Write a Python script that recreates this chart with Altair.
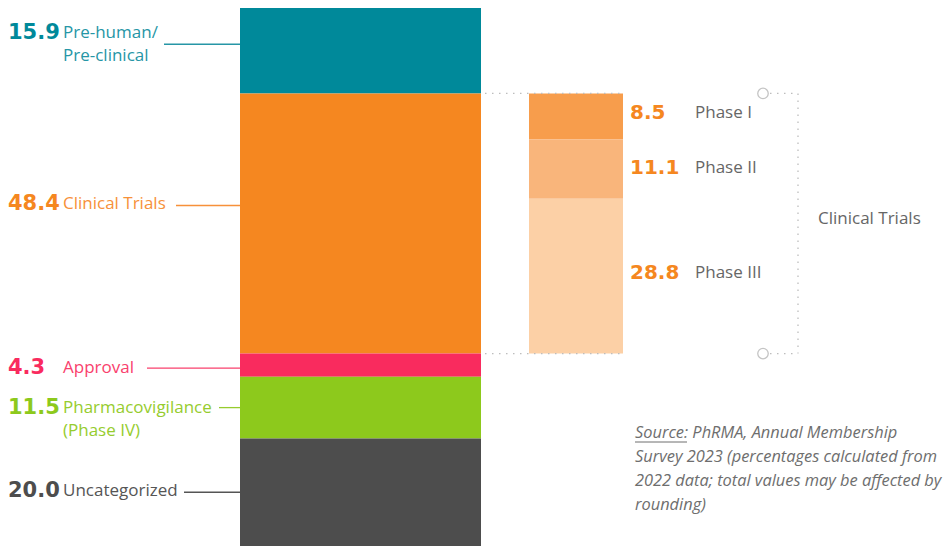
import altair as alt
import pandas as pd

# ---------------- data ----------------
stage_labels = ["Pre-human/\nPre-clinical", "Clinical Trials", "Approval",
                "Pharmacovigilance\n(Phase IV)", "Uncategorized"]
stage_values = [15.9, 48.4, 4.3, 11.5, 20.0]
stage_colors = ["#00899A", "#F58720", "#F92B5E", "#8DC91C", "#4D4D4D"]
stage_label_colors = ["#2696A6", "#F7913A", "#F9416D", "#96CC2E", "#555555"]

phase_labels = ["Phase I", "Phase II", "Phase III"]
phase_values = [8.5, 11.1, 28.8]
phase_colors = ["#F79D4C", "#F9B57B", "#FCD0A6"]
phase_value_color = "#F58720"

bracket_label = "Clinical Trials"
source_lines = ["Source: PhRMA, Annual Membership",
                "Survey 2023 (percentages calculated from",
                "2022 data; total values may be affected by",
                "rounding)"]

# ---------------- layout ----------------
W, H = 935, 538
TOTAL = sum(stage_values)
PX = H / TOTAL
BAR_X0, BAR_X1 = 232, 473
PH_X0, PH_X1 = 521, 615
VAL_X, LAB_X = 0, 55
text_off = [-17.5, -20, 3, 0, -1]
value_off = [-17.5, -20, 3, 0, -1]
leader_off = [-6.5, -18, 3, 0, 0]
leader_x0 = [156, 168, 139, 211, 176]
phase_off = [-3, -1, -3]

xs = alt.Scale(domain=[0, W], nice=False, zero=False)
ys = alt.Scale(domain=[0, TOTAL], nice=False, zero=False, reverse=True)

# main stacked bar
rows = []
acc = 0.0
for i, (lab, v) in enumerate(zip(stage_labels, stage_values)):
    mid = acc + v / 2
    rows.append(dict(label=lab, val=f"{v:.1f}", y0=acc, y1=acc + v,
                     color=stage_colors[i], lcolor=stage_label_colors[i],
                     ty=mid + text_off[i] / PX, vy=mid + value_off[i] / PX,
                     ly=mid + leader_off[i] / PX,
                     lx0=leader_x0[i], lx1=BAR_X0, vx=VAL_X, tx=LAB_X,
                     bx0=BAR_X0, bx1=BAR_X1))
    acc += v
main = pd.DataFrame(rows)

clin_start = stage_values[0]
clin_end = stage_values[0] + stage_values[1]

prow = []
acc = clin_start
for i, (lab, v) in enumerate(zip(phase_labels, phase_values)):
    prow.append(dict(label=lab, val=f"{v:.1f}", y0=acc, y1=acc + v,
                     mid=acc + v / 2 + phase_off[i] / PX, color=phase_colors[i],
                     x0=PH_X0, x1=PH_X1, vx=622, tx=687))
    acc += v
phase = pd.DataFrame(prow)

X = lambda f: alt.X(f, type="quantitative", scale=xs, axis=None)
Y = lambda f: alt.Y(f, type="quantitative", scale=ys, axis=None)

bars = alt.Chart(main).mark_rect().encode(
    x=X("bx0"), x2="bx1", y=Y("y0"), y2="y1",
    color=alt.Color("color:N", scale=None))

leaders = alt.Chart(main).mark_rule(strokeWidth=1.3).encode(
    x=X("lx0"), x2="lx1", y=Y("ly"), color=alt.Color("lcolor:N", scale=None))

vals = alt.Chart(main).mark_text(align="left", baseline="middle", font="DejaVu Sans",
                                 fontSize=21, fontWeight="bold").encode(
    x=X("vx"), y=Y("vy"), text="val:N", color=alt.Color("color:N", scale=None))

labs = alt.Chart(main).mark_text(align="left", baseline="middle", font="Open Sans",
                                 fontSize=17, lineBreak="\n", lineHeight=23).encode(
    x=X("tx"), y=Y("ty"), text="label:N", color=alt.Color("lcolor:N", scale=None))

pbars = alt.Chart(phase).mark_rect().encode(
    x=X("x0"), x2="x1", y=Y("y0"), y2="y1", color=alt.Color("color:N", scale=None))

pvals = alt.Chart(phase).mark_text(align="left", baseline="middle", font="DejaVu Sans",
                                   fontSize=20, fontWeight="bold",
                                   color=phase_value_color).encode(
    x=X("vx"), y=Y("mid"), text="val:N")

plabs = alt.Chart(phase).mark_text(align="left", baseline="middle", font="Open Sans",
                                   fontSize=17, color="#666666").encode(
    x=X("tx"), y=Y("mid"), text="label:N")

# dotted guides
hd = pd.DataFrame([
    dict(x0=477, x1=PH_X1, y=clin_start), dict(x0=477, x1=PH_X1, y=clin_end),
    dict(x0=762, x1=790, y=clin_start), dict(x0=762, x1=790, y=clin_end)])
hdots = alt.Chart(hd).mark_rule(color="#BDBDBD", strokeWidth=1.3,
                                strokeDash=[1.5, 5.5]).encode(
    x=X("x0"), x2="x1", y=Y("y"))
vd = pd.DataFrame([dict(x=790, y0=clin_start, y1=clin_end)])
vdots = alt.Chart(vd).mark_rule(color="#BDBDBD", strokeWidth=1.3,
                                strokeDash=[1.5, 5.5]).encode(
    x=X("x"), y=Y("y0"), y2="y1")
circ = pd.DataFrame([dict(x=755, y=clin_start), dict(x=755, y=clin_end)])
circles = alt.Chart(circ).mark_point(shape="circle", size=110, filled=True,
                                     fill="white", stroke="#C4C4C4",
                                     strokeWidth=1.3, opacity=1).encode(
    x=X("x"), y=Y("y"))

bl = pd.DataFrame([dict(x=810, y=(clin_start + clin_end) / 2 - 5 / PX, t=bracket_label)])
blab = alt.Chart(bl).mark_text(align="left", baseline="middle", font="Open Sans",
                               fontSize=17, color="#666666").encode(
    x=X("x"), y=Y("y"), text="t:N")

src = pd.DataFrame([dict(t=t, py=425 + 24 * i, px=627) for i, t in enumerate(source_lines)])
srct = alt.Chart(src).mark_text(align="left", baseline="middle", font="Open Sans",
                                fontSize=16.4, fontStyle="italic", color="#6E6E6E").encode(
    x=alt.X("px:Q", scale=None, axis=None), y=alt.Y("py:Q", scale=None, axis=None),
    text="t:N")
ul = pd.DataFrame([dict(x0=627, x1=679, y=434)])
underline = alt.Chart(ul).mark_rule(color="#6E6E6E", strokeWidth=1).encode(
    x=alt.X("x0:Q", scale=None, axis=None), x2="x1:Q",
    y=alt.Y("y:Q", scale=None, axis=None))

chart = alt.layer(bars, pbars, hdots, vdots, circles, leaders, vals, labs,
                  pvals, plabs, blab, srct, underline).properties(
    width=W, height=H, padding=0, autosize=alt.AutoSizeParams(type="none")
).configure_view(stroke=None)

chart.save("out.html", embed_options={"renderer": "svg", "actions": False})
